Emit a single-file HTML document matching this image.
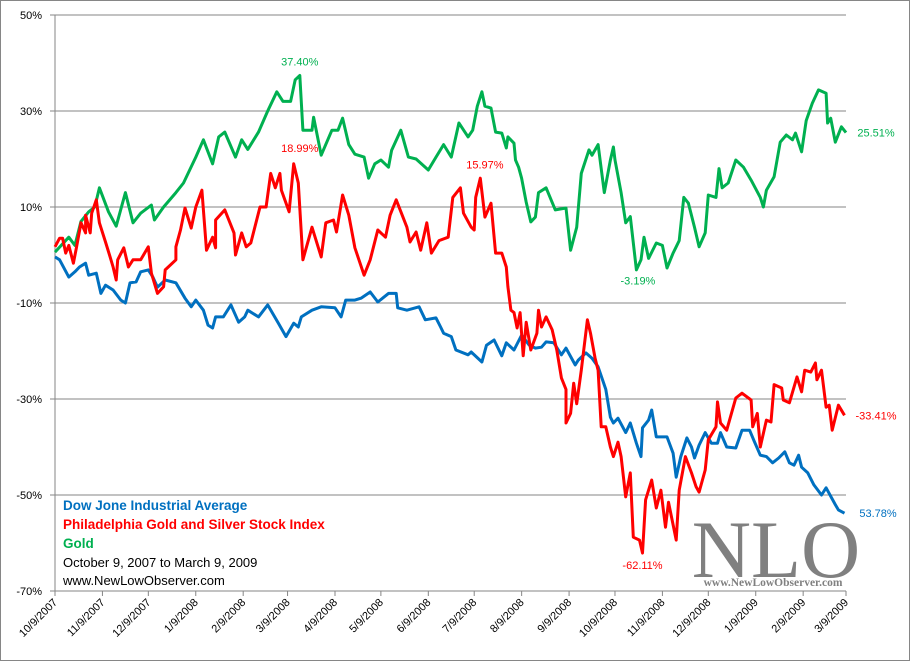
<!DOCTYPE html>
<html><head><meta charset="utf-8">
<style>
html,body{margin:0;padding:0;background:#fff;}
svg{display:block;font-family:"Liberation Sans",sans-serif;}
</style></head>
<body>
<svg id="chart" width="911" height="662" viewBox="0 0 911 662" xmlns="http://www.w3.org/2000/svg">
<rect x="0.5" y="0.5" width="909" height="660" fill="#fff" stroke="#868686"/>
<g id="grid"></g>
<g id="yaxis"></g>
<g id="xaxis"></g>
<g id="logo">
<text x="776" y="577" text-anchor="middle" font-family="Liberation Serif,serif" font-size="82" fill="#808080">NLO</text>
<text x="773" y="586" text-anchor="middle" font-family="Liberation Serif,serif" font-weight="bold" font-size="11.5" fill="#808080">www.NewLowObserver.com</text>
</g>
<g id="series"></g>
<g id="labels" font-size="11"></g>
<g font-size="13.5">
<text x="63" y="510" fill="#0070C0" font-weight="bold">Dow Jone Industrial Average</text>
<text x="63" y="529" fill="#FF0000" font-weight="bold">Philadelphia Gold and Silver Stock Index</text>
<text x="63" y="548" fill="#00B050" font-weight="bold">Gold</text>
<text x="63" y="567" fill="#000" font-size="13">October 9, 2007 to March 9, 2009</text>
<text x="63" y="585" fill="#000" font-size="13">www.NewLowObserver.com</text>
</g>
</svg>
<script>
const yTicks = [50, 30, 10, -10, -30, -50, -70];
const xTickDays = [0,31,61,92,123,152,183,213,244,274,305,336,366,397,427,458,489,517];
const xTickLabels = ["10/9/2007","11/9/2007","12/9/2007","1/9/2008","2/9/2008","3/9/2008","4/9/2008","5/9/2008","6/9/2008","7/9/2008","8/9/2008","9/9/2008","10/9/2008","11/9/2008","12/9/2008","1/9/2009","2/9/2009","3/9/2009"];

const goldDays = [0,9,13,17,22,26,29,35,40,46,51,56,63,65,71,79,84,92,97,103,107,111,118,122,126,133,139,145,149,154,157,160,162,168,169,174,181,185,188,192,196,202,205,209,213,218,220,226,231,236,244,249,254,259,264,270,273,276,279,281,285,288,292,295,296,300,301,303,305,308,311,314,316,321,327,334,337,341,344,349,351,355,359,363,365,366,370,373,376,380,383,385,388,393,397,400,404,406,408,411,414,418,421,425,427,432,434,436,440,445,450,455,461,463,465,470,474,478,482,484,488,491,495,499,504,505,507,510,514,517];
const goldVals = [0.6,3.7,2,7,9,10,14,9,6,13,6.7,8.7,10.4,7.3,10,13,15,20.4,24,19,24.6,25.6,20.4,24,22,25.6,30,34,32,32,36.5,37.4,26,26,28.7,20.8,26,26,28.5,23,21,20.4,16,19,19.8,18.3,21.8,26,20.4,20,17.7,20.4,23,20.4,27.5,24.6,26,31,34,31,30.6,25.6,25.4,22.3,24.6,23.3,19.8,18.3,16,11,6.9,7.9,13,14,9.4,9.8,1,5.8,17,21.9,20.8,23,13,19.8,22.5,19.8,13,6.7,8,-3.1,-1,3.7,-0.7,2.5,2,-2.7,0.4,1.7,3,12,10.8,5.8,1.7,4.6,12.5,12,18,14,15,19.8,18.3,15.6,12,10,13.5,16.3,23.5,25,24,25.4,21.5,28,31.6,34.4,33.7,27.5,28.5,23.5,26.7,25.5];

const xauDays = [0,3,5,7,9,12,14,17,20,20,23,24,27,29,33,36,38,40,41,45,48,51,56,61,63,67,71,72,79,79,82,85,89,92,96,99,103,105,105,111,117,118,122,125,128,134,138,141,144,147,148,153,156,159,162,168,174,177,182,184,188,192,196,202,206,211,216,219,223,230,232,236,239,243,246,251,257,260,265,267,272,274,275,278,281,285,288,292,295,296,298,300,302,304,306,308,311,315,316,318,321,325,328,331,334,334,337,339,341,344,348,350,353,355,357,360,363,365,368,370,373,376,378,382,384,386,390,393,396,399,401,406,408,412,416,419,421,425,427,432,433,435,439,445,449,455,456,459,461,465,468,470,475,476,480,485,488,490,494,497,498,501,504,506,508,512,516];
const xauVals = [1.7,3.5,3.5,0.4,2,-1.7,1.5,6.7,4.6,8.3,4.6,8.7,11.5,6.7,2.7,-0.4,-2.5,-5.2,-1,1.5,-2.5,-1,-1,1.7,-3.8,-8,-6.6,-3.1,-1,1.7,5.2,9.8,5.6,10,13.5,1,3.7,1.5,7.3,9.4,4.6,0,4.6,1.7,2.5,10,10,17,14,17,13.5,9,19,15,-1,5.8,-0.4,6.7,7.3,4.8,12.5,8.3,1.5,-4.2,-1,5.2,3.7,8.3,11.5,5.8,2.7,4.8,1,6.7,0.4,3,3.7,12,14,8.7,5.8,5.2,12,16,7.9,10.8,0.4,0.4,-2.5,-6.6,-11.5,-12,-15.2,-12,-21,-14,-19.8,-16.3,-11.5,-15,-12.9,-15.6,-19.8,-25.6,-28,-35,-33,-26.7,-31,-24,-13.5,-16.3,-21.5,-24,-35.8,-35.8,-40,-42,-39,-42,-50.4,-45.4,-58.8,-59.4,-62.1,-51,-46.9,-52.7,-49,-56.7,-51.5,-59.4,-49,-42,-45.4,-48.3,-49.4,-44.8,-38.5,-35.8,-30.6,-35,-36.5,-29.8,-28.8,-30.2,-35.8,-33,-40,-34.4,-34.8,-27,-27.7,-30.2,-30.8,-25.4,-28.5,-24,-24.4,-22.5,-26,-24,-31.7,-31.3,-36.5,-31.3,-33.4];

const dowDays = [0,3,9,13,16,20,22,27,30,33,38,43,46,49,53,56,61,64,67,72,79,85,89,92,97,100,103,105,110,115,120,124,126,133,139,146,151,156,159,161,168,174,183,187,190,196,200,206,211,218,223,224,230,238,242,249,252,254,259,262,270,272,279,282,287,292,295,300,305,310,314,318,321,326,331,334,340,342,347,351,355,360,363,365,368,373,376,380,383,384,388,390,393,400,404,406,409,413,416,418,421,425,429,433,435,439,445,449,454,457,461,465,469,473,477,480,483,486,488,492,496,501,504,510,512,516];
const dowVals = [-0.4,-1,-4.6,-3.5,-2.5,-1.7,-4.2,-3.8,-8,-6.3,-7.3,-9.4,-10,-5.8,-5.6,-3.5,-3.1,-4.6,-6.7,-5.2,-5.8,-9,-10.8,-9.4,-11.5,-14.6,-15.2,-12.9,-12.9,-10.4,-14,-12.9,-11.5,-12.9,-10.4,-14.2,-17,-14.2,-15,-12.9,-11.5,-10.8,-11,-12.9,-9.4,-9.4,-9,-7.7,-9.8,-8,-8,-11,-11.5,-10.8,-13.5,-13.1,-15,-16.3,-17,-19.8,-20.8,-20.2,-22.3,-18.8,-17.7,-21,-18.3,-19.8,-16.7,-18.8,-19.4,-19.2,-18.1,-18.3,-20.8,-19.4,-22.9,-21.9,-20.4,-21.5,-23.3,-28,-33.8,-35,-34,-37,-35,-39.2,-42,-36,-34.4,-32.3,-37.9,-37.9,-41.3,-46.3,-42,-38.1,-40,-42.3,-39.6,-37,-39.2,-39.2,-37,-40,-40.2,-36.5,-36.5,-38.8,-41.7,-42,-43.3,-42.3,-41,-43.3,-43.8,-41.7,-44.2,-45.4,-47.9,-50,-48.5,-52,-53.1,-53.8];

const annText = ["37.40%","18.99%","15.97%","-3.19%","-62.11%","25.51%","-33.41%","53.78%"];
const annDay = [160,160,281,381,384,517,517,517];
const annVal = [37.4,18.99,15.97,-3.19,-62.11,25.51,-33.41,-53.78];

const X0=55, X1=846, Y0=15, Y1=591, DMAX=517, VMIN=-70, VMAX=50;
const xs = d => X0 + (d/DMAX)*(X1-X0);
const ys = v => Y0 + (VMAX-v)/(VMAX-VMIN)*(Y1-Y0);
const NS="http://www.w3.org/2000/svg";
function mk(tag, attrs, parent){const e=document.createElementNS(NS,tag);for(const k in attrs)e.setAttribute(k,attrs[k]);parent.appendChild(e);return e;}

const grid=document.getElementById('grid'), yax=document.getElementById('yaxis'), xax=document.getElementById('xaxis');
yTicks.forEach(t=>{
  const l=mk('line',{x1:X0-5,x2:X1,y1:ys(t),y2:ys(t),stroke:'#868686','stroke-width':1},grid);
  
  
  const tx=mk('text',{x:42,y:ys(t)+4,'text-anchor':'end','font-size':11,fill:'#000'},yax);
  tx.textContent=t+'%';
  
  
});
const ax=mk('line',{x1:X0,x2:X0,y1:Y0,y2:Y1,stroke:'#868686'},yax);


xTickDays.forEach((d,i)=>{
  const x=xs(d);
  const tk=mk('line',{x1:x,x2:x,y1:Y1,y2:Y1+5,stroke:'#868686'},xax);
  
  
  const tx=mk('text',{x:x+3,y:Y1+12,'text-anchor':'end','font-size':11,fill:'#000',transform:`rotate(-45 ${x+3} ${Y1+12})`},xax);
  tx.textContent=xTickLabels[i];
  
  
});

const ser=document.getElementById('series');
function line(days, vals, color, name){
  const pts=days.map((d,i)=>xs(d).toFixed(1)+','+ys(vals[i]).toFixed(1)).join(' ');
  const p=mk('polyline',{points:pts,fill:'none',stroke:color,'stroke-width':3,'stroke-linejoin':'round'},ser);
  
  
}
line(dowDays,dowVals,'#0070C0','dow-line');
line(goldDays,goldVals,'#00B050','gold-line');
line(xauDays,xauVals,'#FF0000','xau-line');

const lab=document.getElementById('labels');
const annColor=['#00B050','#FF0000','#FF0000','#00B050','#FF0000','#00B050','#FF0000','#0070C0'];
const annDx=[0,0,0,0,0,30,30,32], annDy=[-10,-12,-10,14,16,4,4,4];
annText.forEach((t,i)=>{
  const tx=mk('text',{x:xs(annDay[i])+annDx[i],y:ys(annVal[i])+annDy[i],'text-anchor':'middle',fill:annColor[i]},lab);
  tx.textContent=t;
  
  
});
</script>
</body></html>
